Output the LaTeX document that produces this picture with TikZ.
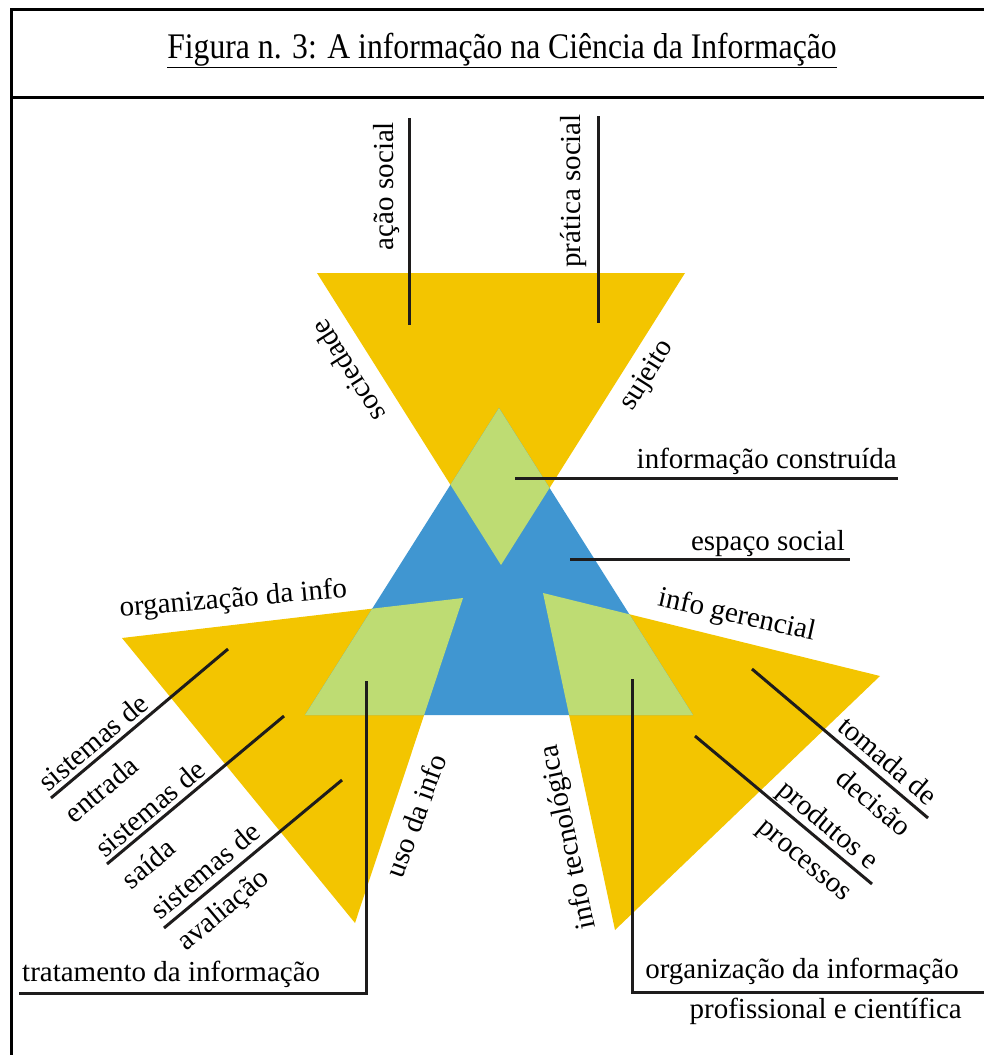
\documentclass[tikz,border=0pt]{standalone}
\usepackage{fontspec}
\setmainfont{Liberation Serif}
\definecolor{ciYellow}{RGB}{243,197,0}
\definecolor{ciBlue}{RGB}{64,150,209}
\definecolor{ciGreen}{RGB}{190,220,115}
\definecolor{ciInk}{RGB}{30,28,28}
\begin{document}
\begin{tikzpicture}[x=1pt,y=-1pt,
  lbl/.style={inner sep=0pt,font=\fontsize{29}{41}\selectfont},
  ink/.style={draw=ciInk,line width=3pt},
  frame/.style={draw=black,line width=3pt}]
\useasboundingbox (0,0) rectangle (984,1055);
% frame
\coordinate (fTL) at (11,9);
\coordinate (fTR) at (984,9);
\coordinate (fBL) at (11,1055);
\coordinate (dL) at (11,97);
\coordinate (dR) at (984,97);
\draw[frame] (fTR) -- (fTL) -- (fBL);
\draw[frame] (dL) -- (dR);
% title
\node[inner sep=0pt,anchor=base] (title) at (502,58)
  {\fontsize{36}{40}\selectfont\scalebox{0.88}[1]{\underline{Figura n. 3: A informação na Ciência da Informação}}};
% triangles
\fill[ciYellow] (317,273) -- (685,273) -- (501,565) -- cycle;
\fill[ciYellow] (122,638) -- (463,598) -- (355,923) -- cycle;
\fill[ciYellow] (543,593) -- (880,676) -- (615,930) -- cycle;
\fill[ciBlue] (499,408) -- (305,715) -- (693,715) -- cycle;
\begin{scope}
  \clip (499,408) -- (305,715) -- (693,715) -- cycle;
  \fill[ciGreen] (317,273) -- (685,273) -- (501,565) -- cycle;
  \fill[ciGreen] (122,638) -- (463,598) -- (355,923) -- cycle;
  \fill[ciGreen] (543,593) -- (880,676) -- (615,930) -- cycle;
\end{scope}
% connector end points
\coordinate (acaoA) at (409,118);   \coordinate (acaoB) at (409,325);
\coordinate (pratA) at (598,116);   \coordinate (pratB) at (598,323);
\coordinate (consA) at (515,478);   \coordinate (consB) at (898,478);
\coordinate (espA) at (570,559);    \coordinate (espB) at (850,559);
\coordinate (entA) at (228,649);    \coordinate (entB) at (51,798);
\coordinate (saiA) at (284,716);    \coordinate (saiB) at (107,864);
\coordinate (avaA) at (342,780);    \coordinate (avaB) at (164,928);
\coordinate (tratA) at (366,681);   \coordinate (tratC) at (366,993); \coordinate (tratB) at (19,993);
\coordinate (tomA) at (752,669);    \coordinate (tomB) at (928,818);
\coordinate (prodA) at (695,736);   \coordinate (prodB) at (872,884);
\coordinate (orgA) at (632,679);    \coordinate (orgC) at (632,992); \coordinate (orgB) at (984,992);
\draw[ink] (acaoA) -- (acaoB);
\draw[ink] (pratA) -- (pratB);
\draw[ink] (consA) -- (consB);
\draw[ink] (espA) -- (espB);
\draw[ink] (entA) -- (entB);
\draw[ink] (saiA) -- (saiB);
\draw[ink] (avaA) -- (avaB);
\draw[ink] (tratA) -- (tratC) -- (tratB);
\draw[ink] (tomA) -- (tomB);
\draw[ink] (prodA) -- (prodB);
\draw[ink] (orgA) -- (orgC) -- (orgB);
% labels
\node[lbl,anchor=base,rotate=90] (acao) at (393,186) {ação social};
\node[lbl,anchor=base,rotate=90] (prat) at (580,191) {prática social};
\node[lbl,anchor=base,rotate=122.4] (soc) at (356,366) {sociedade};
\node[lbl,anchor=base,rotate=57.6] (suj) at (653,379) {sujeito};
\node[lbl,anchor=base east] (cons) at (897,468) {informação construída};
\node[lbl,anchor=base east] (esp) at (845,550) {espaço social};
\node[lbl,anchor=base,rotate=5] (orginfo) at (234,607) {organização da info};
\node[lbl,anchor=base,rotate=-12.5] (ger) at (735,623) {info gerencial};
\node[lbl,anchor=base,rotate=70] (uso) at (425,819) {uso da info};
\node[lbl,anchor=base,rotate=102] (tec) at (576,836) {info tecnológica};
\node[lbl,align=left,rotate=40.1] (ent) at (106,758) {sistemas de\\entrada};
\node[lbl,align=left,rotate=40.1] (sai) at (163,824) {sistemas de\\saída};
\node[lbl,align=left,rotate=40.1] (ava) at (220,888) {sistemas de\\avaliação};
\node[lbl,align=right,rotate=-40.2] (tom) at (875,776) {tomada de\\decisão};
\node[lbl,align=right,rotate=-40.2] (prod) at (814,842) {produtos e\\processos};
\node[lbl,anchor=base west] (trat) at (22,981) {tratamento da informação};
\node[lbl,anchor=base east] (orgi) at (959,978) {organização da informação};
\node[lbl,anchor=base east] (prof) at (962,1018) {profissional e científica};
\end{tikzpicture}
\end{document}
